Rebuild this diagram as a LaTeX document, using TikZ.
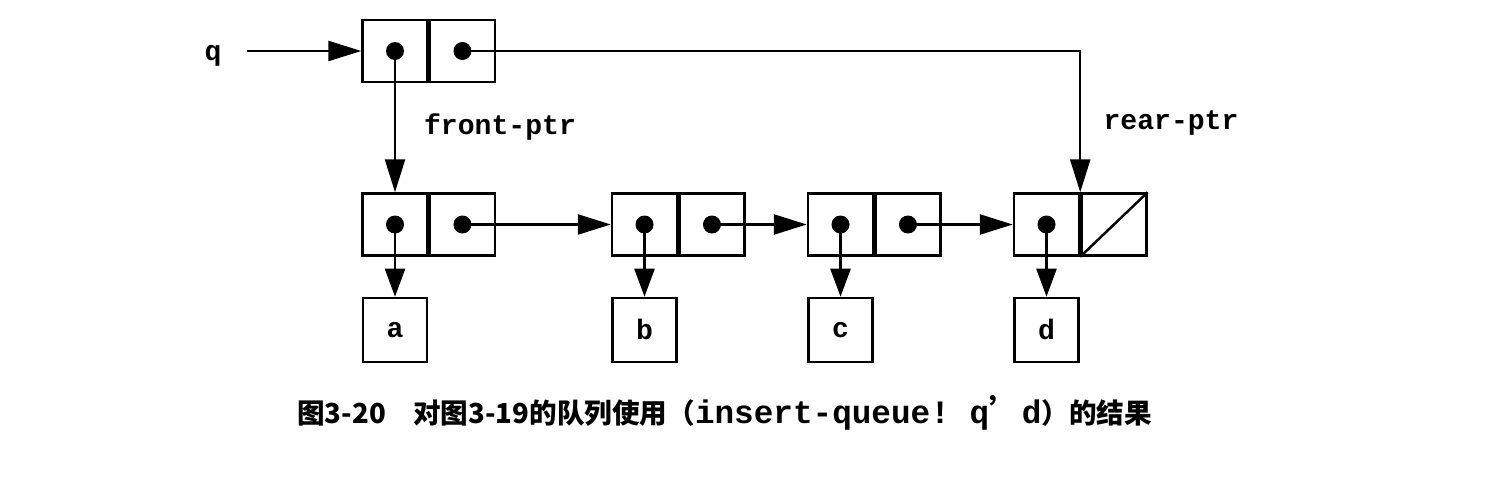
\documentclass[tikz,border=0pt]{standalone}
\usepackage{fontspec}
\setmonofont{Liberation Mono}
\newfontfamily\cjk{Noto Sans CJK SC}
\usetikzlibrary{positioning, arrows.meta}
\tikzset{
    cell/.style = {
        draw, line width=1.4pt,
        minimum width=1.3cm,
        minimum height=1.24cm,
        inner sep=0pt
    },
    valbox/.style = {
        draw, line width=1.4pt,
        minimum width=1.28cm,
        minimum height=1.28cm,
        inner sep=0pt,
        font=\fontsize{16}{18}\selectfont\ttfamily\bfseries
    },
    lbl/.style = {font=\fontsize{16}{18}\selectfont\ttfamily\bfseries},
    ptr/.style = {-{Triangle[length=0.66cm, width=0.4cm]}, line width=1.4pt},
    dnptr/.style = {-{Triangle[length=0.56cm, width=0.4cm]}, line width=1.4pt},
    node distance = 0.8cm
}

\begin{document}
\begin{tikzpicture}[x=0.02cm, y=-0.02cm]
    \useasboundingbox (0,0) rectangle (1498,477);

    % queue pair
    \node[lbl] (q) at (213,56) {q};
    \node[cell] (topcar) at (395,51) {};
    \node[cell, right=0pt of topcar] (topcdr) {};

    % list pairs
    \node[cell] (acar) at (395,224.5) {};
    \node[cell, right=0pt of acar] (acdr) {};
    \node[cell] (bcar) at (644.5,224.5) {};
    \node[cell, right=0pt of bcar] (bcdr) {};
    \node[cell] (ccar) at (840.5,224.5) {};
    \node[cell, right=0pt of ccar] (ccdr) {};
    \node[cell] (dcar) at (1046.5,224.5) {};
    \node[cell, right=0pt of dcar] (dcdr) {};

    % values
    \node[valbox, below=of acar] (va) {a};
    \node[valbox, below=of bcar] (vb) {b};
    \node[valbox, below=of ccar] (vc) {c};
    \node[valbox, below=of dcar] (vd) {d};

    % empty cdr
    \draw[line width=1.4pt] (dcdr.south west) -- (dcdr.north east);

    % dots
    \foreach \c in {topcar, topcdr, acar, acdr, bcar, bcdr, ccar, ccdr, dcar}
        \fill (\c.center) circle (0.18cm);

    % pointers
    \draw[ptr, shorten <=0.38cm] (q.east |- topcar) -- (topcar);
    \draw[ptr] (topcar.center) -- (acar);
    \draw[ptr] (topcdr.center) -| (dcar.north east);
    \draw[ptr] (acdr.center) -- (bcar);
    \draw[ptr] (bcdr.center) -- (ccar);
    \draw[ptr] (ccdr.center) -- (dcar);
    \draw[dnptr] (acar.center) -- (va);
    \draw[dnptr] (bcar.center) -- (vb);
    \draw[dnptr] (ccar.center) -- (vc);
    \draw[dnptr] (dcar.center) -- (vd);

    % labels
    \node[lbl] (fptr) at (500,127) {front-ptr};
    \node[lbl] (rptr) at (1171,123) {rear-ptr};

    % caption
    \node[anchor=west, inner sep=0pt] (cap) at (297,413)
        {\fontsize{15.7}{18}\selectfont\cjk\bfseries 图3-20\hspace{0.55cm}对图3-19的队列使用（{\ttfamily\bfseries\fontsize{18.6}{20}\selectfont insert-queue! q{\cjk\bfseries ’}d}）的结果};
\end{tikzpicture}
\end{document}
